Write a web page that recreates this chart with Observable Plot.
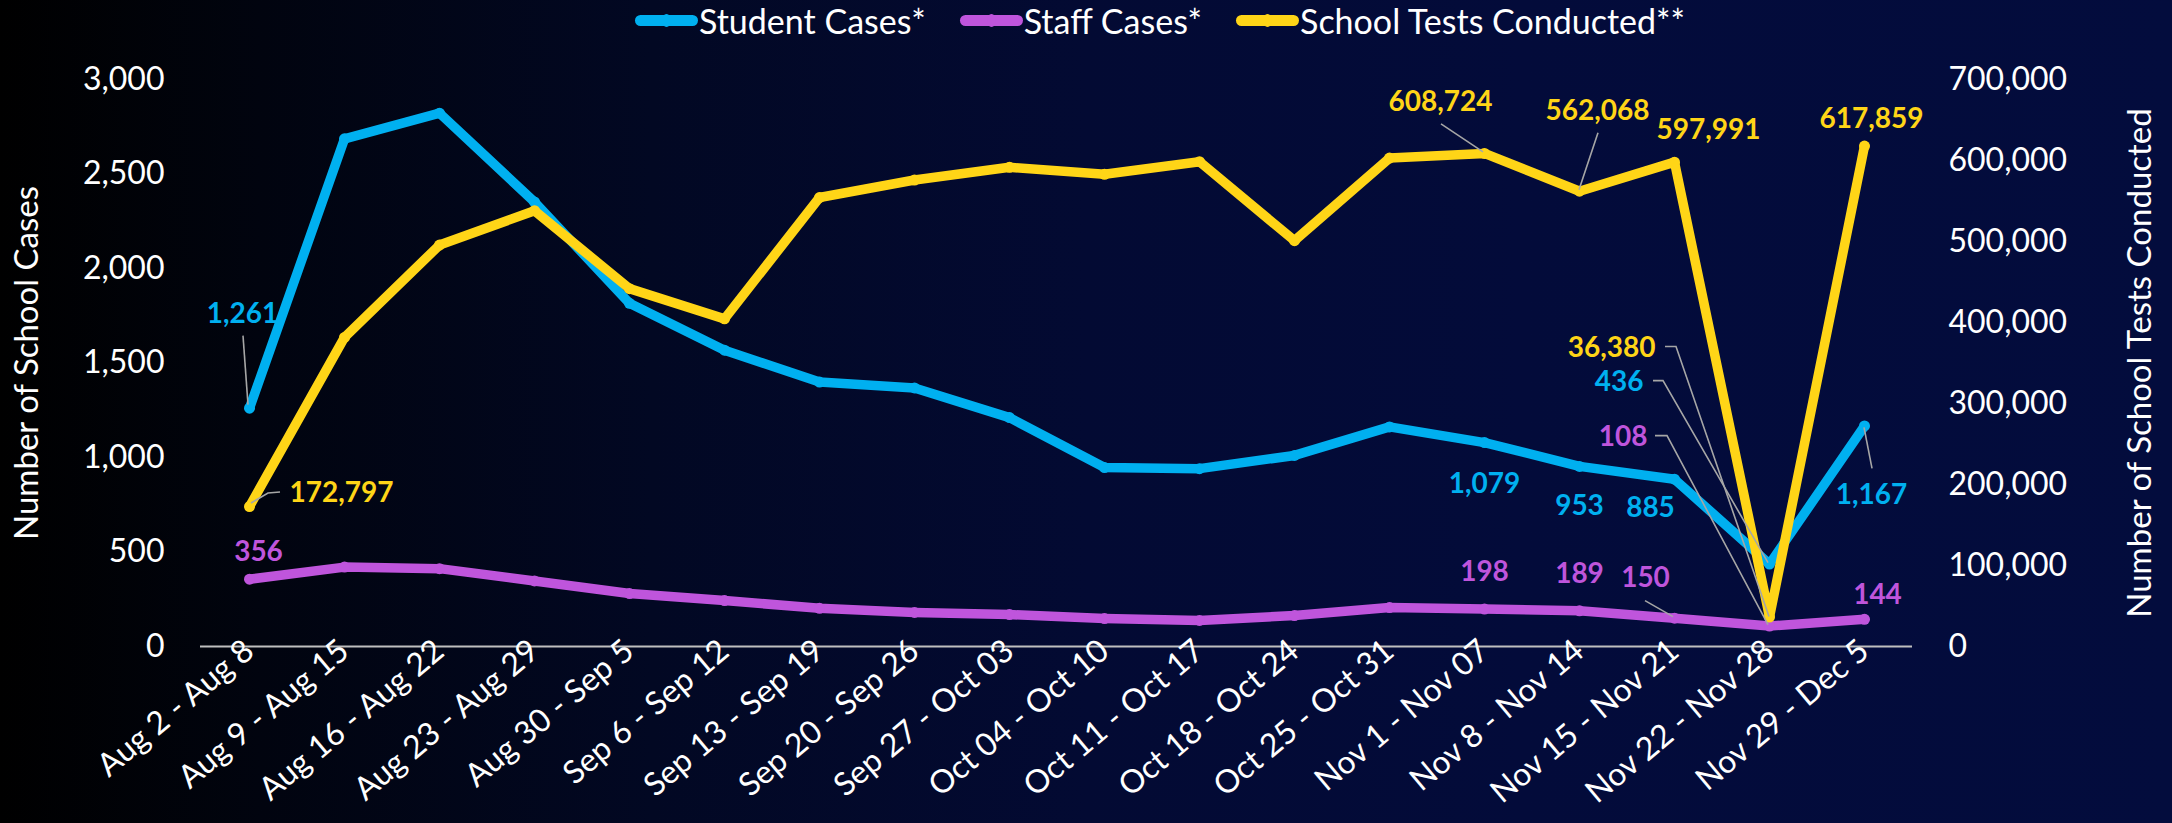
<!DOCTYPE html>
<html>
<head>
<meta charset="utf-8">
<script src="https://cdn.jsdelivr.net/npm/d3@7"></script>
<script src="https://cdn.jsdelivr.net/npm/@observablehq/plot@0.6"></script>
<style>
  html, body { margin: 0; padding: 0; }
  body {
    width: 2172px; height: 823px; overflow: hidden;
    background: linear-gradient(90deg, #000000 0%, #01040f 12%, #020823 30%, #030a33 50%, #030b3a 70%, #030c3d 100%);
    font-family: Lato, "Noto Sans", sans-serif; color: #ffffff;
  }
  #legend { height: 40px; display: flex; align-items: center; padding-left: 635px; font-size: 34px; }
  .item { display: flex; align-items: center; margin-right: 34px; }
  .sw { position: relative; width: 63px; height: 11px; border-radius: 6px; margin-right: 1px; }
  .sw i { position: absolute; left: 27px; top: -1px; width: 9px; height: 13px; border-radius: 50%; background: inherit; }
  #chart svg { display: block; }
</style>
</head>
<body>
<div id="legend"></div>
<div id="chart"></div>
<script>
// ---- data ----
const weeks = [
  "Aug 2 - Aug 8", "Aug 9 - Aug 15", "Aug 16 - Aug 22", "Aug 23 - Aug 29",
  "Aug 30 - Sep 5", "Sep 6 - Sep 12", "Sep 13 - Sep 19", "Sep 20 - Sep 26",
  "Sep 27 - Oct 03", "Oct 04 - Oct 10", "Oct 11 - Oct 17", "Oct 18 - Oct 24",
  "Oct 25 - Oct 31", "Nov 1 - Nov 07", "Nov 8 - Nov 14", "Nov 15 - Nov 21",
  "Nov 22 - Nov 28", "Nov 29 - Dec 5"
];
const studentCases = [1261, 2686, 2822, 2352, 1816, 1568, 1399, 1368, 1211, 947, 941, 1011, 1162, 1079, 953, 885, 436, 1167];
const staffCases = [356, 420, 412, 347, 280, 243, 202, 180, 169, 148, 138, 164, 206, 198, 189, 150, 108, 144];
const testsConducted = [172797, 381600, 495600, 538000, 441800, 404500, 554300, 575900, 591600, 583000, 598500, 501000, 603000, 608724, 562068, 597991, 36380, 617859];
const leftTicks = [0, 500, 1000, 1500, 2000, 2500, 3000];
const rightTicks = [0, 100000, 200000, 300000, 400000, 500000, 600000, 700000];
const labeledWeeks = [0, 13, 14, 15, 16, 17];
const leftTitle = "Number of School Cases";
const rightTitle = "Number of School Tests Conducted";

// ---- series config ----
const k = d3.max(leftTicks) / d3.max(rightTicks); // secondary axis mapping
const series = [
  {key: "student", name: "Student Cases*", color: "#00b0f0", values: studentCases, scale: 1},
  {key: "staff", name: "Staff Cases*", color: "#bf55dc", values: staffCases, scale: 1},
  {key: "tests", name: "School Tests Conducted**", color: "#ffd517", values: testsConducted, scale: k}
];
const drawOrder = ["staff", "student", "tests"];

// label offsets (pixels, style only)
const labelStyle = {
  "student:0": {dx: -7, dy: -94, leader: [[-6, -72], [-1, -3]]},
  "student:13": {dx: 0, dy: 41},
  "student:14": {dx: 0, dy: 40},
  "student:15": {dx: -24, dy: 29},
  "student:16": {dx: -126, dy: -182, anchor: "end", leader: [[-116, -183], [-106, -183], [-1, -1]]},
  "student:17": {dx: 7, dy: 69, leader: [[0, 2], [8, 43]]},
  "staff:0": {dx: 9, dy: -27},
  "staff:13": {dx: 0, dy: -37},
  "staff:14": {dx: 0, dy: -37},
  "staff:15": {dx: -29, dy: -40, leader: [[-29, -17], [-1, -1]]},
  "staff:16": {dx: -122, dy: -189, anchor: "end", leader: [[-114, -190], [-102, -190], [-1, -1]]},
  "staff:17": {dx: 13, dy: -24},
  "tests:0": {dx: 40, dy: -14, anchor: "start", leader: [[2, -3], [19, -13], [31, -14]]},
  "tests:13": {dx: -44, dy: -51, leader: [[-43, -29], [-1, -1]]},
  "tests:14": {dx: 18, dy: -80, leader: [[19, -58], [0, -1]]},
  "tests:15": {dx: 34, dy: -32},
  "tests:16": {dx: -114, dy: -269, anchor: "end", leader: [[-104, -270], [-93, -270], [0, 0]]},
  "tests:17": {dx: 7, dy: -27}
};

const fmt = d3.format(",");
const rows = weeks.map((w, i) => ({week: w, i}));

// ---- legend ----
const legend = d3.select("#legend");
for (const s of series) {
  const it = legend.append("div").attr("class", "item");
  it.append("div").attr("class", "sw").style("background", s.color).append("i");
  it.append("span").text(s.name);
}

// ---- marks ----
const marks = [];
marks.push(Plot.ruleY([0], {stroke: "#bfbfbf", strokeWidth: 2}));
marks.push(Plot.axisY(leftTicks, {anchor: "left", tickSize: 0, tickPadding: 36, tickFormat: fmt, fontSize: 32, label: null}));
marks.push(Plot.text(rightTicks, {y: d => d * k, text: d => fmt(d), frameAnchor: "right", dx: 36, textAnchor: "start", fontSize: 32, fill: "white"}));
marks.push(Plot.axisX({tickRotate: -40, tickSize: 0, tickPadding: 0, fontSize: 32, label: null}));
marks.push(Plot.text([leftTitle], {frameAnchor: "left", dx: -173, rotate: -90, textAnchor: "middle", fontSize: 33, fill: "white"}));
marks.push(Plot.text([rightTitle], {frameAnchor: "right", dx: 228, rotate: -90, textAnchor: "middle", fontSize: 33, fill: "white"}));

for (const key of drawOrder) {
  const s = series.find(d => d.key === key);
  const y = d => s.values[d.i] * s.scale;
  marks.push(Plot.line(rows, {x: "week", y, stroke: s.color, strokeWidth: 9.5, strokeLinejoin: "round", strokeLinecap: "round"}));
  marks.push(Plot.dot(rows, {x: "week", y, r: 5.5, fill: s.color}));
}

// leader lines drawn through the library's scales
const labelList = [];
for (const s of series) for (const i of labeledWeeks) {
  labelList.push({s, i, style: labelStyle[s.key + ":" + i] || {dx: 0, dy: -30}});
}
marks.push((index, scales) => {
  const g = d3.create("svg:g");
  for (const L of labelList) {
    if (!L.style.leader) continue;
    const px = scales.x(weeks[L.i]);
    const py = scales.y(L.s.values[L.i] * L.s.scale);
    g.append("path")
      .attr("d", d3.line()(L.style.leader.map(([a, b]) => [px + a, py + b])))
      .attr("fill", "none").attr("stroke", "#a6a6a6").attr("stroke-width", 1.6);
  }
  return g.node();
});

for (const L of labelList) {
  marks.push(Plot.text([rows[L.i]], {
    x: "week",
    y: d => L.s.values[d.i] * L.s.scale,
    text: d => fmt(L.s.values[d.i]),
    dx: L.style.dx, dy: L.style.dy,
    textAnchor: L.style.anchor || "middle",
    fill: L.s.color, fontWeight: "bold", fontSize: 28
  }));
}

const chart = Plot.plot({
  width: 2172, height: 783,
  marginTop: 39, marginBottom: 177, marginLeft: 200, marginRight: 260,
  style: {background: "transparent", color: "white", fontFamily: "Lato, 'Noto Sans', sans-serif", fontSize: "32px", overflow: "visible"},
  x: {type: "point", domain: weeks, padding: 0.5, axis: null},
  y: {domain: [0, 3000], axis: null},
  marks
});
document.getElementById("chart").appendChild(chart);
</script>
</body>
</html>
